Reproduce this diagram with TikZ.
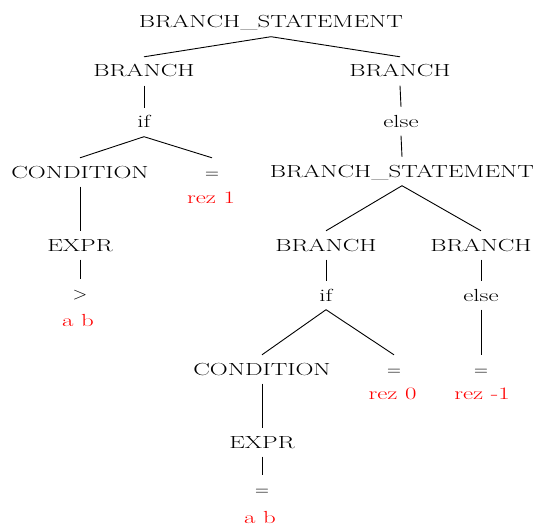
\documentclass[tikz,border=0pt]{standalone}
\usepackage{fontspec}
\usepackage{graphicx}
\newcommand\wide[1]{\scalebox{1.42}[1]{#1}}
\newcommand\smallsym[1]{\scalebox{1.1}[1]{#1}}
\tikzset{
  t/.style={anchor=base, font=\fontsize{17.5}{17.5}\selectfont, text height=11.5pt, text depth=0pt, inner xsep=0pt, inner ysep=8.5pt},
  r/.style={t, text=red},
  link/.style={line width=0.9pt}
}
\begin{document}
\begin{tikzpicture}[x=1pt,y=-1pt]
\useasboundingbox (0,0) rectangle (533,527);
\node[t] (root) at (271,28) {\wide{BRANCH\_STATEMENT}};
\node[t] (b1) at (144,77) {\wide{BRANCH}};
\node[t] (b2) at (400,77) {\wide{BRANCH}};
\node[t] (if1) at (144,128) {\wide{if}};
\node[t] (else1) at (401,127) {\wide{else}};
\node[t] (cond1) at (80,178) {\wide{CONDITION}};
\node[t] (eq1) at (212,178) {\smallsym{=}};
\node[t] (bs2) at (402,177) {\wide{BRANCH\_STATEMENT}};
\node[r] (rez1) at (211,203) {\wide{rez 1}};
\node[t] (expr1) at (80,251) {\wide{EXPR}};
\node[t] (gt1) at (80,299) {\smallsym{>}};
\node[r] (ab1) at (78,326) {\wide{a b}};
\node[t] (b3) at (326,251) {\wide{BRANCH}};
\node[t] (b4) at (481,251) {\wide{BRANCH}};
\node[t] (if2) at (326,301) {\wide{if}};
\node[t] (else2) at (481,301) {\wide{else}};
\node[t] (cond2) at (262,375) {\wide{CONDITION}};
\node[t] (eq2) at (394,375) {\smallsym{=}};
\node[t] (eq3) at (481,375) {\smallsym{=}};
\node[r] (rez0) at (392.5,399) {\wide{rez 0}};
\node[r] (rezm1) at (482,399) {\wide{rez -1}};
\node[t] (expr2) at (262,448) {\wide{EXPR}};
\node[t] (eq4) at (262,495) {\smallsym{=}};
\node[r] (ab2) at (260,523) {\wide{a b}};
\foreach \a/\b in {root/b1,root/b2,b1/if1,b2/else1,if1/cond1,if1/eq1,else1/bs2,cond1/expr1,expr1/gt1,bs2/b3,bs2/b4,b3/if2,b4/else2,if2/cond2,if2/eq2,else2/eq3,cond2/expr2,expr2/eq4}
  \draw[link] (\a.south) -- (\b.north);
\end{tikzpicture}
\end{document}
